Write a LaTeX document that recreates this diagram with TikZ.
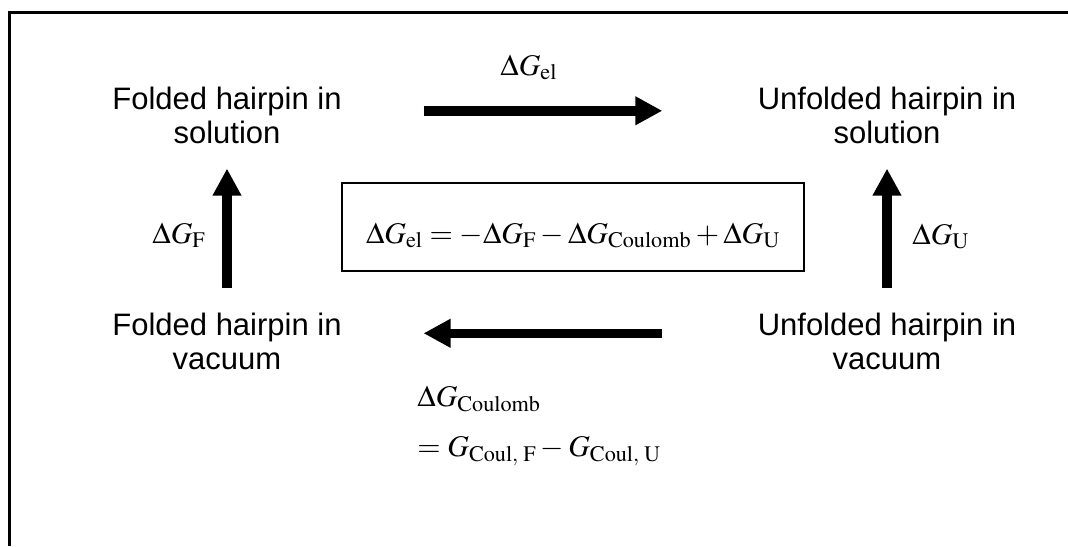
\documentclass[tikz,border=0pt]{standalone}
\usepackage{mathptmx}
\usepackage[no-math]{fontspec}
\setmainfont{Liberation Sans}
\usetikzlibrary{arrows.meta}

\tikzset{
    state/.style={align=center, inner sep=0pt, font=\fontsize{15.5}{17}\selectfont},
    lbl/.style={inner sep=0pt, font=\fontsize{15}{18}\selectfont},
    fat/.style={line width=4.75pt, -{Triangle[length=13.5pt, width=13.5pt]}},
}

\begin{document}
\begin{tikzpicture}[x=0.5pt, y=-0.5pt]
    \useasboundingbox (0,0) rectangle (1068,546);
    \draw[line width=1.5pt] (1068,12) -- (9,12) -- (9,546);
    \node[state, anchor=north] (fs) at (227,87) {Folded hairpin in\\solution};
    \node[state, anchor=north] (us) at (887,87) {Unfolded hairpin in\\solution};
    \node[state, anchor=north] (fv) at (227,313) {Folded hairpin in\\vacuum};
    \node[state, anchor=north] (uv) at (887,313) {Unfolded hairpin in\\vacuum};
    \draw[fat, shorten <=40.75pt, shorten >=47.5pt] ([yshift=2.5pt]fs.east) -- ([yshift=2.5pt]us.west);
    \draw[fat, shorten <=47.5pt, shorten >=40.75pt] ([yshift=4.25pt]uv.west) -- ([yshift=4.25pt]fv.east);
    \draw[fat, shorten <=12.5pt, shorten >=12pt] (fv.north) -- (fs.south);
    \draw[fat, shorten <=12.5pt, shorten >=12pt] (uv.north) -- (us.south);
    \node[lbl, anchor=base west] (gel) at (500,75) {$\Delta G_{\mathrm{el}}$};
    \node[lbl, anchor=base west] (gf) at (152,243) {$\Delta G_{\mathrm{F}}$};
    \node[lbl, anchor=base west] (gu) at (912,244) {$\Delta G_{\mathrm{U}}$};
    \node[lbl, anchor=north west, align=left] (gc) at (417,386) {$\Delta G_{\mathrm{Coulomb}}$\\[7pt]$= G_{\mathrm{Coul,\;F}} - G_{\mathrm{Coul,\;U}}$};
    \node[draw, line width=1pt, inner xsep=12pt, inner ysep=0pt, text height=30pt, text depth=14pt,
          anchor=base west, font=\fontsize{15}{18}\selectfont] (eq) at (341,243)
          {$\Delta G_{\mathrm{el}} = -\Delta G_{\mathrm{F}} - \Delta G_{\mathrm{Coulomb}} + \Delta G_{\mathrm{U}}$};
\end{tikzpicture}
\end{document}
